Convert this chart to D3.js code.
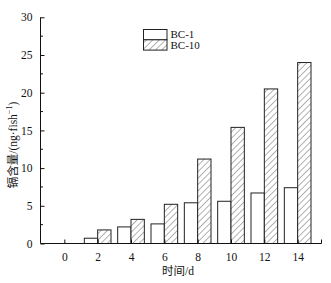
<!DOCTYPE html>
<html>
<head>
<meta charset="utf-8">
<script src="https://cdn.jsdelivr.net/npm/d3@7"></script>
<style>
  body { margin: 0; background: #fff; }
  svg text { font-family: "Liberation Serif", "Noto Sans CJK SC", serif; fill: #111; }
</style>
</head>
<body>
<div id="chart"></div>
<script>
const days = [0, 2, 4, 6, 8, 10, 12, 14];
const bc1 = [0, 0.7, 2.2, 2.6, 5.4, 5.6, 6.7, 7.4];
const bc10 = [0, 1.8, 3.2, 5.2, 11.2, 15.4, 20.5, 24.0];
const yTicks = [0, 5, 10, 15, 20, 25, 30];
const seriesNames = ["BC-1", "BC-10"];

const width = 331, height = 283;
const svg = d3.select("#chart").append("svg")
  .attr("width", width)
  .attr("height", height);

const defs = svg.append("defs");
const pat = defs.append("pattern")
  .attr("id", "hatch")
  .attr("patternUnits", "userSpaceOnUse")
  .attr("width", 4.5)
  .attr("height", 4.5)
  .attr("patternTransform", "rotate(45)");
pat.append("rect").attr("width", 4.5).attr("height", 4.5).attr("fill", "#fff");
pat.append("line")
  .attr("x1", 0).attr("y1", 0).attr("x2", 0).attr("y2", 4.5)
  .attr("stroke", "#555").attr("stroke-width", 0.9);

const x = d3.scaleLinear().domain([-1.43, 15.43]).range([40.5, 321.5]);
const y = d3.scaleLinear().domain([0, 30]).range([243.5, 17.3]);
const barW = x(0.8) - x(0);

// bars
const g = svg.append("g");
g.selectAll("rect.bc1").data(days)
  .enter().append("rect")
  .attr("class", "bc1")
  .attr("x", (d, i) => x(d) - barW)
  .attr("y", (d, i) => y(bc1[i]))
  .attr("width", barW)
  .attr("height", (d, i) => y(0) - y(bc1[i]))
  .attr("fill", "#fff")
  .attr("stroke", (d, i) => bc1[i] > 0 ? "#222" : "none")
  .attr("stroke-width", 1);

g.selectAll("rect.bc10").data(days)
  .enter().append("rect")
  .attr("class", "bc10")
  .attr("x", d => x(d))
  .attr("y", (d, i) => y(bc10[i]))
  .attr("width", barW)
  .attr("height", (d, i) => y(0) - y(bc10[i]))
  .attr("fill", "url(#hatch)")
  .attr("stroke", (d, i) => bc10[i] > 0 ? "#222" : "none")
  .attr("stroke-width", 1);

// y axis
const yAxis = svg.append("g")
  .attr("transform", `translate(${x.range()[0]},0)`)
  .call(d3.axisLeft(y).tickValues(yTicks).tickSize(-4).tickPadding(8));
yAxis.select(".domain").attr("stroke", "#111").attr("d", `M0,${y(30)}V${y(0)}`);
yAxis.selectAll(".tick line").attr("stroke", "#111");
yAxis.selectAll("text").attr("font-size", 11.5).attr("fill", "#111");
yAxis.append("g").selectAll("line")
  .data(d3.range(2.5, 30, 5))
  .enter().append("line")
  .attr("x1", 0).attr("x2", 2.5)
  .attr("y1", d => y(d)).attr("y2", d => y(d))
  .attr("stroke", "#111");

// x axis
const xAxis = svg.append("g")
  .attr("transform", `translate(0,${y(0)})`)
  .call(d3.axisBottom(x).tickValues(days).tickSize(-4).tickPadding(9));
xAxis.select(".domain").attr("stroke", "#111").attr("d", `M${x.range()[0]},0H${x.range()[1]}`);
xAxis.selectAll(".tick line").attr("stroke", "#111");
xAxis.selectAll("text").attr("font-size", 11.5).attr("fill", "#111");
xAxis.append("line")
  .attr("x1", x.range()[1]).attr("x2", x.range()[1])
  .attr("y1", 0).attr("y2", -4)
  .attr("stroke", "#111");

// axis titles
svg.append("text")
  .attr("x", 178).attr("y", 275)
  .attr("text-anchor", "middle")
  .attr("font-size", 11.5)
  .text("时间/d");

const yt = svg.append("text")
  .attr("transform", "translate(17,145) rotate(-90)")
  .attr("text-anchor", "middle")
  .attr("font-size", 11.5);
yt.append("tspan").text("镉含量/(ng·fish");
yt.append("tspan").attr("font-size", 8).attr("dy", -5).text("−1");
yt.append("tspan").attr("dy", 5).text(")");

// legend
const legend = svg.append("g").attr("transform", "translate(143.5,29.5)");
seriesNames.forEach((name, i) => {
  legend.append("rect")
    .attr("x", 0).attr("y", i * 10.3)
    .attr("width", 23.5).attr("height", 10.3)
    .attr("fill", i === 0 ? "#fff" : "url(#hatch)")
    .attr("stroke", "#222");
  legend.append("text")
    .attr("x", 27).attr("y", i * 10.3 + 8.8)
    .attr("font-size", 11)
    .text(name);
});
</script>
</body>
</html>
